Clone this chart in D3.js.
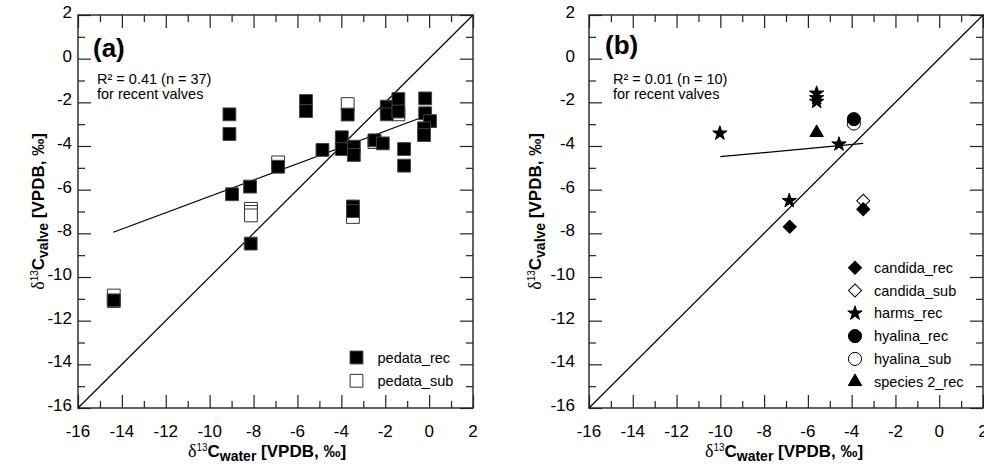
<!DOCTYPE html>
<html><head><meta charset="utf-8">
<script src="https://cdn.jsdelivr.net/npm/d3@7"></script>
<style>
html,body{margin:0;padding:0;background:#fff;}
svg{display:block;font-family:"Liberation Sans",Arial,sans-serif;}
</style></head>
<body>
<svg id="chart" width="984" height="471"></svg>
<script>
// ---------- DATA ----------
const axisTicks = [-16,-14,-12,-10,-8,-6,-4,-2,0,2];
const minorTicks = [-15,-13,-11,-9,-7,-5,-3,-1,1];

// panel (a)
const pedataRec = [
  [-14.37,-11.07],[-9.10,-2.55],[-9.10,-3.45],[-8.98,-6.21],[-8.16,-5.86],[-8.13,-8.47],
  [-6.88,-4.95],[-5.61,-1.94],[-5.61,-2.40],[-4.86,-4.18],[-3.98,-3.60],[-3.98,-4.14],
  [-3.43,-4.03],[-3.43,-4.41],[-3.71,-2.56],[-3.47,-6.77],[-3.47,-6.98],[-2.49,-3.74],
  [-2.11,-3.88],[-1.93,-2.20],[-1.93,-2.55],[-1.40,-1.85],[-1.40,-2.42],[-1.14,-4.14],
  [-1.14,-4.90],[-0.18,-1.82],[-0.18,-2.50],[0.04,-2.86],[-0.23,-3.19],[-0.23,-3.50]
];
const pedataSub = [
  [-14.37,-10.85],[-14.37,-11.10],[-8.12,-6.88],[-8.12,-7.02],[-8.12,-7.18],
  [-6.88,-4.75],[-3.71,-2.08],[-3.47,-7.25],[-1.40,-2.55],[-2.49,-3.82]
];
const fitA = [[-14.39,-7.95],[0.0,-2.57]];
const statsA = ["R\u00B2 = 0.41 (n = 37)", "for recent valves"];

// panel (b)
const candidaRec = [[-6.83,-7.70],[-3.47,-6.90]];
const candidaSub = [[-3.47,-6.51]];
const harmsRec = [[-10.02,-3.42],[-5.60,-1.59],[-5.60,-1.80],[-5.60,-1.97],[-4.58,-3.92],[-6.85,-6.51]];
const hyalinaRec = [[-3.90,-2.77]];
const hyalinaSub = [[-3.90,-2.97]];
const species2Rec = [[-5.60,-3.39]];
const fitB = [[-10.0,-4.49],[-3.47,-3.88]];
const statsB = ["R\u00B2 = 0.01 (n = 10)", "for recent valves"];

const legendA = ["pedata_rec","pedata_sub"];
const legendB = ["candida_rec","candida_sub","harms_rec","hyalina_rec","hyalina_sub","species 2_rec"];

// ---------- DRAW ----------
const svg = d3.select("#chart");

function addTitle(sel, sub){
  sel.append("tspan").attr("font-family","'Liberation Serif',serif").attr("font-weight","normal").attr("font-size",18).text("\u03B4");
  sel.append("tspan").attr("font-size",10).attr("font-weight","normal").attr("dy",-6).text("13");
  sel.append("tspan").attr("dy",6).text("C");
  sel.append("tspan").attr("font-size",14).attr("dy",4).text(sub);
  sel.append("tspan").attr("dy",-4).text(" [VPDB, \u2030]");
}

function panel(cfg){
  const g = svg.append("g");
  const x = d3.scaleLinear().domain([-16,2]).range([cfg.left,cfg.right]);
  const y = d3.scaleLinear().domain([-16,2]).range([cfg.bottom,cfg.top]);

  const mk = (axisFn, scale, vals, size, tx, ty) => {
    const a = g.append("g").attr("transform",`translate(${tx},${ty})`)
      .call(axisFn(scale).tickValues(vals).tickSize(-size).tickFormat(""));
    a.select(".domain").remove();
    a.selectAll("line").attr("stroke","#222").attr("stroke-width",1.2);
    return a;
  };
  mk(d3.axisBottom, x, axisTicks, 13, 0, cfg.bottom);
  mk(d3.axisBottom, x, minorTicks, 7, 0, cfg.bottom);
  mk(d3.axisTop, x, axisTicks, 13, 0, cfg.top);
  mk(d3.axisTop, x, minorTicks, 7, 0, cfg.top);
  mk(d3.axisLeft, y, axisTicks, 13, cfg.left, 0);
  mk(d3.axisLeft, y, minorTicks, 7, cfg.left, 0);
  mk(d3.axisRight, y, axisTicks, 13, cfg.right, 0);
  mk(d3.axisRight, y, minorTicks, 7, cfg.right, 0);

  g.append("g").selectAll("text").data(axisTicks).join("text")
    .attr("x", d=>x(d)).attr("y", cfg.bottom+29)
    .attr("text-anchor","middle").attr("font-size",17).attr("fill","#000")
    .text(d=>d);
  g.append("g").selectAll("text").data(axisTicks).join("text")
    .attr("x", cfg.left-cfg.ylabPad).attr("y", d=>y(d)+3)
    .attr("text-anchor","end").attr("font-size",17).attr("fill","#000")
    .text(d=>d);

  g.append("rect").attr("x",cfg.left).attr("y",cfg.top)
    .attr("width",cfg.right-cfg.left).attr("height",cfg.bottom-cfg.top)
    .attr("fill","none").attr("stroke","#222").attr("stroke-width",1.4);

  const line = d3.line().x(d=>x(d[0])).y(d=>y(d[1]));
  g.append("path").attr("d", line([[-16,-16],[2,2]])).attr("stroke","#000").attr("stroke-width",1.2).attr("fill","none");
  g.append("path").attr("d", line(cfg.fit)).attr("stroke","#000").attr("stroke-width",1.2).attr("fill","none");

  const xt = g.append("text").attr("x",cfg.xTitleX).attr("y",457)
    .attr("text-anchor","middle").attr("font-size",17).attr("font-weight","bold");
  addTitle(xt, "water");

  const yt = g.append("text")
    .attr("transform",`translate(${cfg.yTitleX},${(cfg.top+cfg.bottom)/2}) rotate(-90)`)
    .attr("text-anchor","middle").attr("font-size",17).attr("font-weight","bold");
  addTitle(yt, "valve");

  g.append("text").attr("x",cfg.labX).attr("y",cfg.labY).attr("font-size",26).attr("font-weight","bold").text(cfg.label);
  g.append("g").selectAll("text").data(cfg.stats).join("text")
    .attr("x",cfg.statX).attr("y",(d,i)=>84+i*15).attr("font-size",14.5).text(d=>d);

  return {g,x,y};
}

// ----- Panel A -----
const A = panel({left:78,right:473,top:15,bottom:408,ylabPad:6,fit:fitA,
  xTitleX:267,yTitleX:44,label:"(a)",labX:93,labY:57,statX:97,stats:statsA});
const sqPath = d3.symbol(d3.symbolSquare, 164)();
A.g.append("g").selectAll("path").data(pedataSub).join("path")
  .attr("d",sqPath).attr("transform",d=>`translate(${A.x(d[0])},${A.y(d[1])})`)
  .attr("fill","#fff").attr("stroke","#333").attr("stroke-width",1);
A.g.append("g").selectAll("path").data(pedataRec).join("path")
  .attr("d",sqPath).attr("transform",d=>`translate(${A.x(d[0])},${A.y(d[1])})`)
  .attr("fill","#000").attr("stroke","#444").attr("stroke-width",1);
const legA = A.g.append("g").selectAll("g").data(legendA).join("g")
  .attr("transform",(d,i)=>`translate(356.5,${357.5+i*23.3})`);
legA.append("path").attr("d",sqPath).attr("fill",(d,i)=>i===0?"#000":"#fff").attr("stroke","#333").attr("stroke-width",1);
legA.append("text").attr("x",21).attr("y",5).attr("font-size",14.5).text(d=>d);

// ----- Panel B -----
const B = panel({left:589,right:983,top:15,bottom:408,ylabPad:14,fit:fitB,
  xTitleX:784,yTitleX:541,label:"(b)",labX:605,labY:54,statX:613,stats:statsB});
const sym = {
  diamond: d3.symbol(d3.symbolSquare, 85)(),
  star: d3.symbol(d3.symbolStar, 64)(),
  circle: d3.symbol(d3.symbolCircle, 135)(),
  triangle: d3.symbol(d3.symbolTriangle, 78)()
};
const seriesB = [
  {data:candidaSub, shape:"diamond", fill:"#fff"},
  {data:hyalinaSub, shape:"circle", fill:"#fff"},
  {data:candidaRec, shape:"diamond", fill:"#000"},
  {data:harmsRec, shape:"star", fill:"#000"},
  {data:hyalinaRec, shape:"circle", fill:"#000"},
  {data:species2Rec, shape:"triangle", fill:"#000"}
];
seriesB.forEach(s=>{
  B.g.append("g").selectAll("path").data(s.data).join("path")
    .attr("d",sym[s.shape])
    .attr("transform",d=>`translate(${B.x(d[0])},${B.y(d[1])})` + (s.shape==="diamond"?" rotate(45)":""))
    .attr("fill",s.fill).attr("stroke","#000").attr("stroke-width",1);
});
const legShapes = [["diamond","#000"],["diamond","#fff"],["star","#000"],["circle","#000"],["circle","#fff"],["triangle","#000"]];
const legB = B.g.append("g").selectAll("g").data(legendB).join("g")
  .attr("transform",(d,i)=>`translate(855,${267.7+i*22.8})`);
legB.append("path")
  .attr("d",(d,i)=>sym[legShapes[i][0]])
  .attr("transform",(d,i)=>legShapes[i][0]==="diamond"?"rotate(45)":"")
  .attr("fill",(d,i)=>legShapes[i][1]).attr("stroke","#000").attr("stroke-width",1);
legB.append("text").attr("x",19).attr("y",5).attr("font-size",14.5).text(d=>d);
</script>
</body></html>
